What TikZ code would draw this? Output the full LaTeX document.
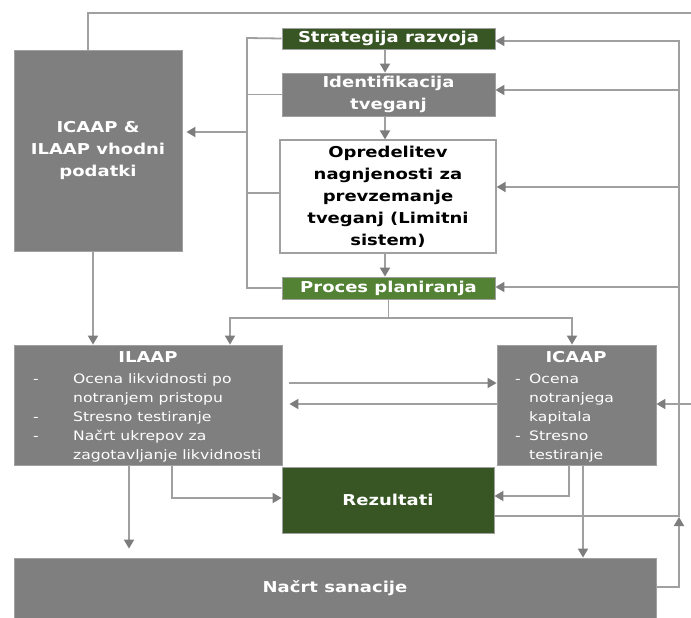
\documentclass[tikz,border=0pt]{standalone}
\usepackage{fontspec}
\setmainfont{DejaVu Sans}[FakeStretch=1.2]
\usetikzlibrary{arrows.meta,calc}
\definecolor{boxgray}{RGB}{127,127,127}
\definecolor{dgreen}{RGB}{55,86,35}
\definecolor{lgreen}{RGB}{84,130,53}
\definecolor{linec}{RGB}{160,160,160}
\definecolor{tipc}{RGB}{125,125,125}
\begin{document}
\begin{tikzpicture}[x=1pt,y=-1pt,
  box/.style={draw=linec, line width=0.8pt, inner sep=0pt, text=white, align=center,
    font=\bfseries\fontsize{15}{22}\selectfont},
  graybox/.style={box, fill=boxgray},
  dgbox/.style={box, fill=dgreen},
  lgbox/.style={box, fill=lgreen},
  whitebox/.style={box, fill=white, draw=linec, line width=1.2pt, text=black},
  lbl/.style={inner sep=0pt, text=white, font=\fontsize{13}{19}\selectfont},
  hdr/.style={inner sep=0pt, text=white, font=\bfseries\fontsize{15}{22}\selectfont},
  conn/.style={draw=linec, line width=1.8pt, -{Triangle[width=10pt,length=9pt,color=tipc]}},
  plain/.style={draw=linec, line width=1.8pt},
]
\useasboundingbox (0,0) rectangle (691,618);

% boxes
\node[dgbox, minimum width=213pt, minimum height=21pt] (strat) at (388.5,38.5) {Strategija razvoja};
\node[graybox, minimum width=213pt, minimum height=43pt] (ident) at (388.5,94.5) {Identifikacija\\tveganj};
\node[whitebox, minimum width=216pt, minimum height=113pt] (opred) at (388,196.5) {Opredelitev\\nagnjenosti za\\prevzemanje\\tveganj (Limitni\\sistem)};
\node[lgbox, minimum width=213pt, minimum height=22pt] (proces) at (388.5,288) {Proces planiranja};
\node[graybox, minimum width=168pt, minimum height=201pt] (inputs) at (98,150.5) {ICAAP \&\\ILAAP vhodni\\podatki};
\node[graybox, minimum width=268pt, minimum height=120pt] (ilaap) at (148,405) {};
\node[graybox, minimum width=159pt, minimum height=120pt] (icaap) at (576.5,405) {};
\node[dgbox, minimum width=212pt, minimum height=66pt] (rez) at (388,500) {Rezultati};
\node[graybox, minimum width=642pt, minimum height=60pt] (sanac) at (335,588) {Načrt sanacije};

% texts inside ILAAP / ICAAP
\node[hdr] (ilaaph) at (148,357) {ILAAP};
\node[lbl, anchor=base west] (ilaapl) at (33,383) {%
  \begin{tabular}[t]{@{}p{40pt}@{}l@{}}
  - & Ocena likvidnosti po\\
    & notranjem pristopu\\
  - & Stresno testiranje\\
  - & Načrt ukrepov za\\
    & zagotavljanje likvidnosti
  \end{tabular}};
\node[hdr] (icaaph) at (576,357) {ICAAP};
\node[lbl, anchor=base west] (icaapl) at (515,383) {%
  \begin{tabular}[t]{@{}p{14pt}@{}l@{}}
  - & Ocena\\
    & notranjega\\
    & kapitala\\
  - & Stresno\\
    & testiranje
  \end{tabular}};

% free ends
\coordinate (topr) at (691,13);
\coordinate (brk) at (247,38);
\coordinate (pj) at (388.5,318);

% top line
\draw[plain] (inputs.north -| 88,0) |- (topr);

% left bracket
\draw[plain] (strat.west) -- (brk) -- (brk |- proces.west) -- (proces.west);
\draw[plain] (ident.west) -- (ident.west -| brk);
\draw[plain] (opred.west |- 0,193) -- (247,193);
\draw[conn, shorten >=4pt] (247,132) -- (inputs.east |- 0,132);

% vertical chain
\draw[conn] (strat.south -| 385,0) -- (ident.north -| 385,0);
\draw[conn] (ident.south -| 385,0) -- (opred.north -| 385,0);
\draw[conn] (opred.south -| 385,0) -- (proces.north -| 385,0);

% right feedback line
\draw[conn] (rez.east |- 0,516) -- (679,516) |- (strat.east |- 0,41);
\draw[conn] (679,90) -- (ident.east |- 0,90);
\draw[conn] (679,187) -- (opred.east |- 0,187);
\draw[conn] (679,287) -- (proces.east |- 0,287);
\draw[conn] (sanac.east |- 0,587) -- (679,587) -- (679,517);
\draw[conn] (691,404) -- (icaap.east |- 0,404);

% process to ILAAP / ICAAP
\draw[plain] (proces.south) -- (pj);
\draw[conn] (pj) -| (ilaap.north -| 230,0);
\draw[conn] (pj) -| (icaap.north -| 572,0);
\draw[conn] (inputs.south -| 93,0) -- (ilaap.north -| 93,0);

% ILAAP <-> ICAAP
\draw[conn, shorten <=7pt] (ilaap.east |- 0,383) -- (icaap.west |- 0,383);
\draw[conn, shorten >=7pt] (icaap.west |- 0,404) -- (ilaap.east |- 0,404);

% to results
\draw[conn] (ilaap.south -| 172,0) |- (rez.west |- 0,498);
\draw[conn] (icaap.south -| 569,0) |- (rez.east |- 0,496);

% to recovery plan
\draw[conn, shorten >=9pt] (ilaap.south -| 129,0) -- (sanac.north -| 129,0);
\draw[conn] (icaap.south -| 583,0) -- (sanac.north -| 583,0);
\end{tikzpicture}
\end{document}
